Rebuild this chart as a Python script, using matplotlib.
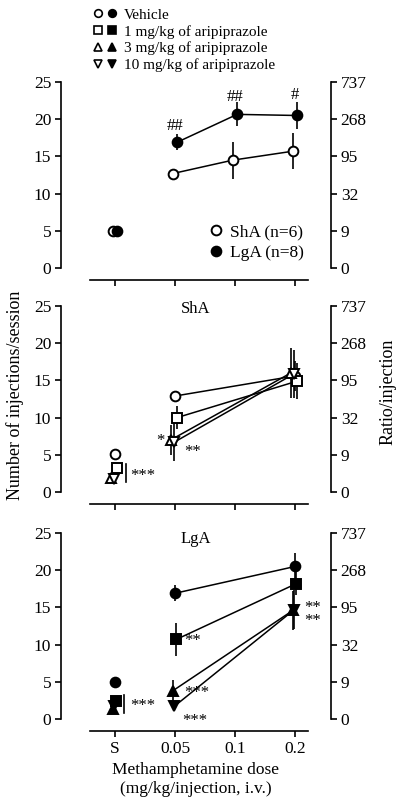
import numpy as np
import matplotlib
matplotlib.use("Agg")
import matplotlib.pyplot as plt
from matplotlib.lines import Line2D
from matplotlib.legend_handler import HandlerTuple
import matplotlib.transforms as mtransforms

plt.rcParams['font.family'] = 'Liberation Serif'

FONT_TICKS = 12.5
FONT_TEXT = 12
FONT_LEGEND = 11
LINE_WIDTH = 1.1
MARKER_SIZE = 7

# dose categories (x axis, equally spaced log2 steps)
dose_labels = ['S', '0.05', '0.1', '0.2']
left_ticks = [0, 5, 10, 15, 20, 25]
ratio_labels = ['0', '9', '32', '95', '268', '737']

# panel 1: vehicle only, ShA vs LgA
veh_doses = ['S', '0.05', '0.1', '0.2']
sha_veh = [5.0, 12.7, 14.5, 15.7]
sha_veh_err = [0.0, 0.4, 2.5, 2.4]
lga_veh = [5.0, 16.9, 20.65, 20.5]
lga_veh_err = [0.0, 1.1, 1.6, 1.8]

# panels 2 and 3: aripiprazole pretreatment
ari_doses = ['S', '0.05', '0.2']
sha_vehicle = [5.1, 12.9, 15.6]
sha_vehicle_err = [0.0, 0.4, 2.0]
sha_ari1 = [3.2, 10.0, 14.9]
sha_ari1_err = [0.0, 1.6, 2.4]
sha_ari3 = [1.85, 7.0, 16.0]
sha_ari3_err = [0.0, 2.0, 3.3]
sha_ari10 = [1.8, 6.7, 15.9]
sha_ari10_err = [0.0, 2.6, 3.2]

lga_vehicle = [5.0, 16.9, 20.5]
lga_vehicle_err = [0.0, 1.1, 1.8]
lga_ari1 = [2.4, 10.7, 18.2]
lga_ari1_err = [0.0, 2.2, 1.5]
lga_ari3 = [1.4, 3.8, 14.6]
lga_ari3_err = [0.0, 1.4, 2.6]
lga_ari10 = [1.7, 1.7, 14.7]
lga_ari10_err = [0.0, 0.5, 2.6]


def xpos(doses):
    return np.array([dose_labels.index(d) for d in doses], dtype=float)


def draw_series(ax, doses, vals, errs, marker, filled, dx=0.0, ms=MARKER_SIZE):
    fig = ax.figure
    tr = mtransforms.offset_copy(ax.transData, fig=fig, x=dx, y=0, units='points')
    x = xpos(doses)
    vals = np.asarray(vals)
    errs = np.asarray(errs)
    fc = 'black' if filled else 'white'
    ax.errorbar(x, vals, yerr=errs, fmt='none', ecolor='black',
                elinewidth=1.2, capsize=0, transform=tr, zorder=2)
    ax.plot(x[1:], vals[1:], '-', color='black', lw=LINE_WIDTH,
            transform=tr, zorder=3)
    ax.plot(x, vals, linestyle='none', marker=marker, ms=ms, mfc=fc,
            mec='black', mew=1.4, transform=tr, zorder=4, clip_on=False)


def setup_axes(ax, show_labels):
    ax.set_xlim(-0.9, 3.6)
    ax.set_ylim(-0.5, 25.5)
    for s in ['top', 'right']:
        ax.spines[s].set_visible(False)
    ax.spines['left'].set_bounds(0, 25)
    ax.spines['bottom'].set_bounds(-0.42, 3.22)
    ax.spines['bottom'].set_position(('outward', 6))
    for s in ['left', 'bottom']:
        ax.spines[s].set_linewidth(1.2)
    ax.set_yticks(left_ticks)
    ax.set_xticks(range(len(dose_labels)))
    if show_labels:
        ax.set_xticklabels(dose_labels)
    else:
        ax.set_xticklabels([])
    ax.tick_params(axis='both', direction='out', length=4, width=1.2,
                   labelsize=FONT_TICKS, pad=3)
    ax.patch.set_visible(False)

    ax2 = ax.twinx()
    ax2.set_ylim(ax.get_ylim())
    for s in ['top', 'left', 'bottom']:
        ax2.spines[s].set_visible(False)
    ax2.spines['right'].set_bounds(0, 25)
    ax2.spines['right'].set_linewidth(1.2)
    ax2.set_yticks(left_ticks)
    ax2.set_yticklabels(ratio_labels)
    ax2.tick_params(axis='y', direction='out', length=4, width=1.2,
                    labelsize=FONT_TICKS, pad=3)
    return ax2


fig = plt.figure(figsize=(4.0, 8.07), dpi=100)
W, H = 400.0, 807.0
left = 61 / W
width = 270 / W
height = 193.4 / H

ax1 = fig.add_axes([left, 1 - 271.7 / H, width, height])
ax2 = fig.add_axes([left, 1 - 495.7 / H, width, height])
ax3 = fig.add_axes([left, 1 - 722.7 / H, width, height])
for a, lab in [(ax1, False), (ax2, False), (ax3, True)]:
    setup_axes(a, lab)

# ---- panel 1
draw_series(ax1, veh_doses, sha_veh, sha_veh_err, 'o', False, dx=-1.5)
draw_series(ax1, veh_doses, lga_veh, lga_veh_err, 'o', True, dx=1.5)
ax1.text(1, lga_veh[1] + lga_veh_err[1] + 0.0, '##', ha='center', va='bottom', fontsize=FONT_TEXT)
ax1.text(2, lga_veh[2] + lga_veh_err[2] - 0.3, '##', ha='center', va='bottom', fontsize=FONT_TEXT)
ax1.text(3, lga_veh[3] + lga_veh_err[3] - 0.1, '#', ha='center', va='bottom', fontsize=FONT_TEXT)
ins = [Line2D([], [], ls='none', marker='o', ms=MARKER_SIZE, mfc='white', mec='black', mew=1.4),
       Line2D([], [], ls='none', marker='o', ms=MARKER_SIZE, mfc='black', mec='black', mew=1.4)]
ax1.legend(ins, ['ShA (n=6)', 'LgA (n=8)'], loc='lower right',
           bbox_to_anchor=(0.9, 0.055), frameon=False, fontsize=FONT_TEXT + 0.5,
           handlelength=0.8, handletextpad=0.4, labelspacing=0.25,
           borderpad=0, borderaxespad=0)

# ---- panel 2 (ShA)
draw_series(ax2, ari_doses, sha_vehicle, sha_vehicle_err, 'o', False)
draw_series(ax2, ari_doses, sha_ari1, sha_ari1_err, 's', False, dx=1.5)
draw_series(ax2, ari_doses, sha_ari3, sha_ari3_err, '^', False, dx=-3)
draw_series(ax2, ari_doses, sha_ari10, sha_ari10_err, 'v', False, dx=-0.5)
ax2.text(0.5, 24.6, 'ShA', ha='center', va='center', fontsize=FONT_TEXT,
         transform=mtransforms.blended_transform_factory(ax2.transAxes, ax2.transData))
ax2.text(0.82, sha_ari3[1] - 0.2, '*', ha='right', va='center', fontsize=FONT_TEXT)
ax2.text(1.15, sha_ari10[1] - 1.3, '**', ha='left', va='center', fontsize=FONT_TEXT)
s_lo = min(sha_ari1[0], sha_ari3[0], sha_ari10[0]) - 0.5
s_hi = max(sha_ari1[0], sha_ari3[0], sha_ari10[0]) + 0.5
ax2.plot([0.18, 0.18], [s_lo, s_hi], color='black', lw=1.2)
ax2.text(0.26, (s_lo + s_hi) / 2 - 0.3, '***', ha='left', va='center', fontsize=FONT_TEXT)
fig.text(15 / W, 1 - 395 / H, 'Number of injections/session', rotation=90,
         ha='center', va='center', fontsize=FONT_TEXT + 1)
fig.text(388 / W, 1 - 392 / H, 'Ratio/injection', rotation=90,
         ha='center', va='center', fontsize=FONT_TEXT + 1)

# ---- panel 3 (LgA)
draw_series(ax3, ari_doses, lga_vehicle, lga_vehicle_err, 'o', True)
draw_series(ax3, ari_doses, lga_ari1, lga_ari1_err, 's', True, dx=1)
draw_series(ax3, ari_doses, lga_ari3, lga_ari3_err, '^', True, dx=-1.5)
draw_series(ax3, ari_doses, lga_ari10, lga_ari10_err, 'v', True, dx=-0.5)
ax3.text(0.5, 24.2, 'LgA', ha='center', va='center', fontsize=FONT_TEXT,
         transform=mtransforms.blended_transform_factory(ax3.transAxes, ax3.transData))
ax3.text(1.15, lga_ari1[1] - 0.2, '**', ha='left', va='center', fontsize=FONT_TEXT)
ax3.text(1.15, lga_ari3[1] - 0.3, '***', ha='left', va='center', fontsize=FONT_TEXT)
ax3.text(1.12, lga_ari10[1] - 2.0, '***', ha='left', va='center', fontsize=FONT_TEXT)
ax3.text(3.15, lga_ari3[2] - 0.6, '**\n**', ha='left', va='center', fontsize=FONT_TEXT,
         linespacing=0.75)
l_lo = min(lga_ari1[0], lga_ari3[0], lga_ari10[0]) - 0.6
l_hi = max(lga_ari1[0], lga_ari3[0], lga_ari10[0]) + 0.8
ax3.plot([0.15, 0.15], [l_lo, l_hi], color='black', lw=1.2)
ax3.text(0.25, (l_lo + l_hi) / 2 - 0.3, '***', ha='left', va='center', fontsize=FONT_TEXT)
ax3.set_xlabel('Methamphetamine dose\n(mg/kg/injection, i.v.)', fontsize=FONT_TEXT + 0.5,
               linespacing=1.2)

# ---- top legend
def pair(marker):
    return (Line2D([], [], ls='none', marker=marker, ms=5.5, mfc='white', mec='black', mew=1.2),
            Line2D([], [], ls='none', marker=marker, ms=5.5, mfc='black', mec='black', mew=1.2))

leg_labels = ['Vehicle', '1 mg/kg of aripiprazole', '3 mg/kg of aripiprazole',
              '10 mg/kg of aripiprazole']
leg_handles = [pair('o'), pair('s'), pair('^'), pair('v')]
fig.legend(leg_handles, leg_labels, loc='upper left', bbox_to_anchor=(91 / W, 1 - 8 / H),
           frameon=False, fontsize=FONT_LEGEND, handlelength=1.8, handletextpad=0.35,
           labelspacing=0.2, borderpad=0, borderaxespad=0,
           handler_map={tuple: HandlerTuple(ndivide=None, pad=0)})

fig.savefig('out.png', dpi=100)
